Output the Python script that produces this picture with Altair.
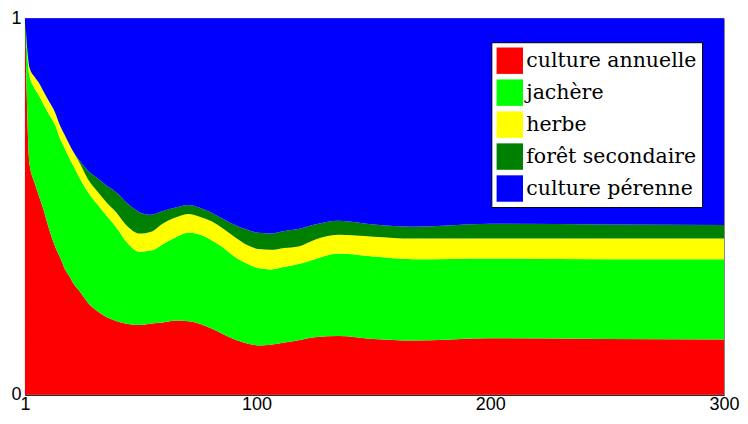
import altair as alt
import pandas as pd

x_vals = [1, 3, 5, 7, 9, 11, 14, 16, 18, 20, 22, 24, 28, 32, 36, 40, 45, 50, 55, 60,
          66, 71, 76, 81, 86, 91, 96, 101, 106, 112, 118, 125, 135, 150, 167, 200, 250, 300]

annuelle = [1.0, 0.61, 0.565, 0.528, 0.49, 0.446, 0.392, 0.365, 0.335, 0.315, 0.293, 0.278,
            0.244, 0.222, 0.206, 0.196, 0.188, 0.185, 0.189, 0.192, 0.197, 0.195, 0.188,
            0.175, 0.16, 0.146, 0.136, 0.131, 0.133, 0.139, 0.145, 0.153, 0.156, 0.148,
            0.144, 0.15, 0.148, 0.147]
jachere = [0.0, 0.235, 0.25, 0.267, 0.28, 0.302, 0.323, 0.315, 0.32, 0.313, 0.312, 0.302,
           0.294, 0.283, 0.269, 0.249, 0.214, 0.195, 0.194, 0.208, 0.223, 0.235, 0.237,
           0.235, 0.23, 0.219, 0.212, 0.205, 0.20, 0.201, 0.202, 0.207, 0.219, 0.219,
           0.216, 0.212, 0.212, 0.213]
herbe = [0.0, 0.023, 0.03, 0.033, 0.035, 0.034, 0.033, 0.035, 0.035, 0.037, 0.037, 0.04,
         0.034, 0.035, 0.035, 0.04, 0.044, 0.048, 0.05, 0.055, 0.052, 0.05, 0.047,
         0.05, 0.05, 0.053, 0.05, 0.051, 0.052, 0.05, 0.047, 0.052, 0.05, 0.053,
         0.055, 0.053, 0.055, 0.055]
foret = [0.0, 0.0, 0.0, 0.0, 0.0, 0.0, 0.0, 0.0, 0.0, 0.0, 0.0, 0.005,
         0.023, 0.035, 0.045, 0.053, 0.061, 0.057, 0.045, 0.033, 0.026, 0.024, 0.024,
         0.023, 0.026, 0.032, 0.04, 0.043, 0.043, 0.045, 0.046, 0.04, 0.037, 0.032,
         0.031, 0.039, 0.037, 0.036]

categories = ["culture annuelle", "jachère", "herbe", "forêt secondaire", "culture pérenne"]
colors = ["#ff0000", "#00ff00", "#ffff00", "#008000", "#0000ff"]

rows = []
for i, xv in enumerate(x_vals):
    a, j, h, f = annuelle[i], jachere[i], herbe[i], foret[i]
    p = max(0.0, 1.0 - (a + j + h + f))
    for k, v in enumerate([a, j, h, f, p]):
        rows.append({"t": xv, "cat": categories[k], "idx": k, "val": v})
df = pd.DataFrame(rows)

serif = "DejaVu Serif"
sans = "Liberation Sans"

chart = alt.Chart(df).mark_area(interpolate="monotone", strokeWidth=0).encode(
    x=alt.X("t:Q", scale=alt.Scale(domain=[1, 300], nice=False, zero=False),
            axis=alt.Axis(values=[1, 100, 200, 300], format="d", title=None, grid=False,
                          ticks=False, labelFlush=False, labelFont=sans, labelFontSize=18,
                          labelColor="black", labelPadding=1, domainColor="black")),
    y=alt.Y("val:Q", stack="zero", scale=alt.Scale(domain=[0, 1], nice=False),
            axis=alt.Axis(values=[0, 1], format="d", title=None, grid=False, ticks=False,
                          labelFlush=False, labelFont=sans, labelFontSize=18,
                          labelColor="black", labelPadding=4, domainColor="black")),
    color=alt.Color("cat:N", scale=alt.Scale(domain=categories, range=colors),
                    legend=alt.Legend(title=None, orient="none", legendX=467, legendY=24,
                                      fillColor="white", strokeColor="black",
                                      padding=5, symbolType="square", symbolSize=700,
                                      symbolStrokeWidth=0, symbolOpacity=1,
                                      labelFont=serif, labelFontSize=20.5,
                                      labelColor="black", labelOffset=3, rowPadding=5,
                                      labelLimit=300)),
    order=alt.Order("idx:Q"),
).properties(
    width=700, height=377,
    padding={"left": 2, "top": 1, "right": 0, "bottom": 0},
).configure(font=serif).configure_view(stroke="#888888", strokeWidth=1)

chart.save("out.html", embed_options={"renderer": "svg", "actions": False})
